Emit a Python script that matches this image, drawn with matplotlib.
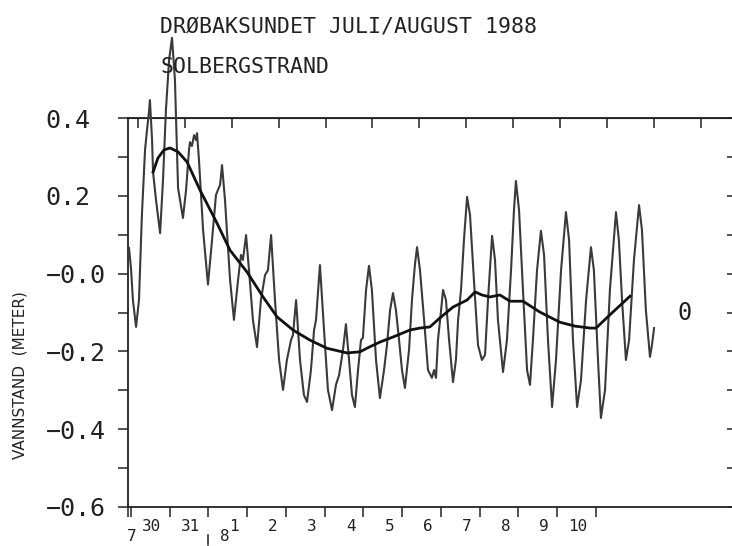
import numpy as np
import matplotlib.pyplot as plt

# water level at Solbergstrand, hours from 30 July 00:00 and metres
raw_hours = [-4.6, -3.6, -2.6, -1.0, 0.5, 2.0, 3.6, 4.6, 5.6, 6.1, 7.2, 7.7, 9.2, 11.3,
             12.8, 14.3, 15.9, 17.4, 18.9, 20.5, 23.0, 24.6, 26.1, 26.6, 27.6, 28.7, 29.7,
             30.2, 31.2, 33.3, 35.8, 37.9, 39.9, 40.9, 42.0, 43.0, 44.5, 47.1, 49.1, 51.2,
             52.7, 53.7, 55.3, 56.8, 58.8, 60.9, 62.9, 65.0, 66.5, 68.1, 70.1, 72.2, 74.2,
             76.2, 78.3, 79.3, 80.9, 82.9, 84.9, 86.5, 88.5, 90.1, 91.1, 93.1, 95.2, 97.2,
             99.3, 101.3, 102.9, 104.9, 106.4, 108.0, 109.5, 111.0, 112.6, 114.1, 115.1,
             116.7, 118.2, 119.7, 121.8, 123.8, 125.9, 127.4, 129.0, 130.5, 132.0, 133.6,
             135.1, 136.6, 138.7, 140.2, 141.7, 142.8, 144.3, 146.4, 148.4, 150.4, 151.5,
             152.5, 153.5, 155.1, 156.1, 157.6, 159.2, 161.2, 162.7, 163.8, 165.3, 166.8,
             168.4, 169.9, 171.9, 174.0, 176.0, 177.6, 179.1, 181.2, 182.7, 184.2, 186.8,
             188.8, 190.9, 192.4, 193.4, 195.0, 197.0, 199.1, 200.6, 202.1, 204.2, 206.2,
             207.8, 209.8, 211.9, 213.9, 216.5, 219.0, 220.6, 222.6, 224.7, 226.7, 229.3,
             231.8, 233.3, 235.4, 236.9, 239.0, 241.5, 244.6, 246.1, 247.7, 249.7, 251.3,
             253.8, 256.4, 257.9, 259.9, 262.0, 263.0, 264.1]
raw_level = [0.066, 0.014, -0.068, -0.137, -0.068, 0.151, 0.318, 0.369, 0.415, 0.446,
             0.343, 0.261, 0.190, 0.104, 0.241, 0.421, 0.549, 0.606, 0.498, 0.220, 0.143,
             0.215, 0.318, 0.338, 0.328, 0.356, 0.343, 0.361, 0.292, 0.112, -0.028, 0.087,
             0.202, 0.215, 0.228, 0.279, 0.190, -0.016, -0.119, -0.016, 0.048, 0.035,
             0.099, 0.009, -0.119, -0.189, -0.068, -0.004, 0.009, 0.099, -0.068, -0.222,
             -0.299, -0.222, -0.171, -0.158, -0.068, -0.222, -0.312, -0.330, -0.248,
             -0.145, -0.119, 0.022, -0.145, -0.299, -0.351, -0.286, -0.261, -0.196,
             -0.130, -0.222, -0.312, -0.343, -0.248, -0.171, -0.165, -0.042, 0.020,
             -0.042, -0.222, -0.320, -0.248, -0.184, -0.094, -0.050, -0.094, -0.171,
             -0.248, -0.294, -0.196, -0.068, 0.022, 0.068, 0.009, -0.119, -0.248, -0.268,
             -0.248, -0.268, -0.171, -0.094, -0.042, -0.068, -0.171, -0.279, -0.222,
             -0.119, -0.042, 0.086, 0.197, 0.151, -0.016, -0.184, -0.222, -0.209, -0.068,
             0.097, 0.035, -0.119, -0.253, -0.171, 0.009, 0.163, 0.238, 0.163, -0.042,
             -0.248, -0.286, -0.171, 0.009, 0.110, 0.048, -0.171, -0.343, -0.222, 0.009,
             0.158, 0.086, -0.171, -0.343, -0.274, -0.068, 0.068, 0.009, -0.222, -0.371,
             -0.299, -0.042, 0.158, 0.086, -0.068, -0.222, -0.171, 0.035, 0.176, 0.112,
             -0.094, -0.214, -0.184, -0.140]

# low-pass filtered level
smooth_hours = [7.7, 10.2, 13.3, 16.4, 20.5, 25.1, 31.7, 40.4, 47.1, 55.8, 64.0, 71.1,
                79.3, 88.0, 96.7, 107.0, 113.6, 118.7, 123.8, 130.5, 139.2, 144.3, 149.4,
                154.5, 161.2, 168.4, 172.5, 176.0, 180.1, 185.2, 190.4, 197.0, 205.7,
                215.9, 223.6, 231.3, 234.4, 241.5, 251.8]
smooth_level = [0.261, 0.297, 0.318, 0.323, 0.313, 0.287, 0.215, 0.130, 0.060, 0.004,
                -0.060, -0.111, -0.145, -0.171, -0.192, -0.204, -0.201, -0.188, -0.176,
                -0.163, -0.145, -0.140, -0.137, -0.114, -0.086, -0.068, -0.047, -0.055,
                -0.060, -0.055, -0.071, -0.071, -0.099, -0.125, -0.135, -0.140, -0.140,
                -0.106, -0.058]

y_ticks = [-0.6, -0.5, -0.4, -0.3, -0.2, -0.1, 0.0, 0.1, 0.2, 0.3, 0.4]
y_labels = ['\u22120.6', '', '\u22120.4', '', '\u22120.2', '', '\u22120.0', '', '0.2', '', '0.4']
day_labels = ['30', '31', '1', '2', '3', '4', '5', '6', '7', '8', '9', '10']
month_labels = ['7', '8']

mono = 'DejaVu Sans Mono'
ink = '#222222'

fig = plt.figure(figsize=(7.32, 5.46), dpi=100)
ax = fig.add_axes([128 / 732, 39 / 546, 606 / 732, 389 / 546])

ax.plot(raw_hours, raw_level, color='#3a3a3a', lw=1.5, clip_on=False, zorder=3)
ax.plot(smooth_hours, smooth_level, color='#111111', lw=2.0, zorder=4)

ax.set_xlim(-5.12, 305)
ax.set_ylim(-0.6, 0.4)

for s in ax.spines.values():
    s.set_linewidth(1.3)
    s.set_color(ink)

# left axis
ax.set_yticks(y_ticks)
ax.set_yticklabels(y_labels, fontsize=18, family=mono, color=ink)
ax.tick_params(axis='y', direction='out', length=7.2, width=1.1, color=ink, pad=52)
for lab in ax.get_yticklabels():
    lab.set_horizontalalignment('left')

# right axis: ticks only
ry = ax.secondary_yaxis('right')
ry.set_yticks(y_ticks)
ry.tick_params(direction='in', length=5, width=1.1, color=ink, labelright=False)

# bottom axis (day boundaries as drawn)
bottom_ticks = np.arange(13) * 19.83 - 3.6
ax.set_xticks(np.concatenate([[-5.12], bottom_ticks]))
ax.set_xticklabels([''] * 14)
ax.tick_params(axis='x', direction='out', length=7.2, width=1.1, color=ink)

# top axis: 24 h ticks
tx = ax.secondary_xaxis('top')
tx.set_xticks(np.arange(0, 290, 24))
tx.tick_params(direction='in', length=7.2, width=1.1, color=ink, labeltop=False)

xt = ax.get_xaxis_transform()
for i, lab in enumerate(day_labels):
    off = 10.7 if len(lab) == 2 else 13.2
    if lab == '1':
        off = 13.0
    ax.text(bottom_ticks[i] + off, -0.049, lab, transform=xt, ha='center', va='center',
            fontsize=11.5, family=mono, color=ink)
ax.text(bottom_ticks[0] + 0.5, -0.075, month_labels[0], transform=xt, ha='center',
        va='center', fontsize=11.5, family=mono, color=ink)
ax.text(bottom_ticks[2] + 8.5, -0.075, month_labels[1], transform=xt, ha='center',
        va='center', fontsize=11.5, family=mono, color=ink)
ax.plot([bottom_ticks[2], bottom_ticks[2]], [-0.072, -0.098], transform=xt,
        color=ink, lw=1.1, clip_on=False)

# titles
fig.text(160 / 732, 1 - 32 / 546, 'DR\u00d8BAKSUNDET JULI/AUGUST 1988', ha='left',
         va='baseline', fontsize=15.5, family=mono, color=ink)
fig.text(160 / 732, 1 - 73 / 546, 'SOLBERGSTRAND', ha='left', va='baseline',
         fontsize=15.5, family=mono, color=ink)

fig.text(20 / 732, 1 - 375 / 546, 'VANNSTAND  (METER)', rotation=90, ha='center',
         va='center', fontsize=11, color=ink)
fig.text(685 / 732, 1 - 313 / 546, '0', ha='center', va='center', fontsize=17,
         family=mono, color=ink)

fig.savefig('out.png', dpi=100)
